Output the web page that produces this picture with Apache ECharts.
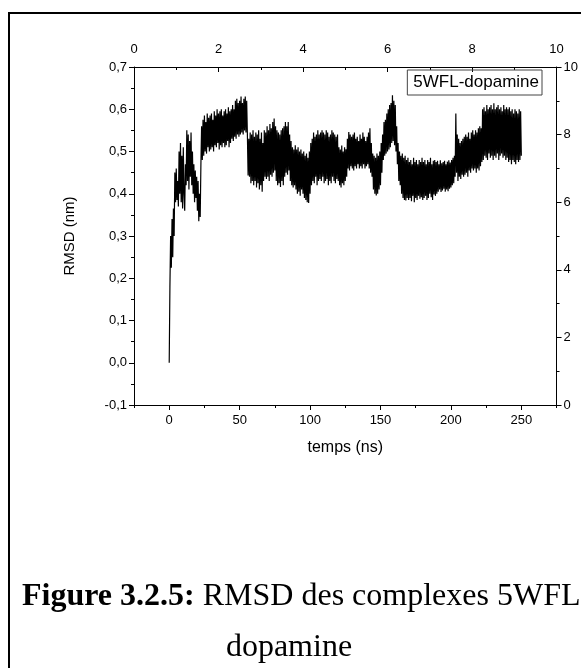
<!DOCTYPE html>
<html>
<head>
<meta charset="utf-8">
<script src="https://cdn.jsdelivr.net/npm/echarts@6/dist/echarts.min.js"></script>
<style>
    html, body { margin: 0; padding: 0; background: #fff; }
    #main { width: 581px; height: 668px; }
</style>
</head>
<body>
<div id="main"></div>
<script>
// RMSD trace, one value every 0.5 ns (0 .. 250 ns)
var dt = 0.5;
var rmsd = [
    // 0 - 9.5 ns
    0.000, 0.180, 0.300, 0.225, 0.340, 0.250, 0.365, 0.300, 0.450, 0.380,
    0.460, 0.385, 0.430, 0.370, 0.500, 0.400, 0.520, 0.380, 0.490, 0.365,
    // 10 - 19.5
    0.510, 0.400, 0.360, 0.470, 0.420, 0.550, 0.430, 0.540, 0.410, 0.525,
    0.440, 0.545, 0.420, 0.500, 0.400, 0.470, 0.380, 0.455, 0.390, 0.440,
    // 20 - 29.5
    0.360, 0.430, 0.335, 0.400, 0.345, 0.470, 0.560, 0.480, 0.575, 0.490,
    0.585, 0.500, 0.570, 0.495, 0.590, 0.510, 0.580, 0.500, 0.585, 0.505,
    // 30 - 39.5
    0.590, 0.510, 0.575, 0.500, 0.595, 0.515, 0.585, 0.510, 0.600, 0.520,
    0.590, 0.505, 0.595, 0.515, 0.600, 0.510, 0.585, 0.520, 0.595, 0.510,
    // 40 - 49.5
    0.600, 0.515, 0.590, 0.525, 0.605, 0.510, 0.595, 0.520, 0.600, 0.530,
    0.610, 0.525, 0.600, 0.535, 0.620, 0.530, 0.625, 0.540, 0.615, 0.535,
    // 50 - 59.5
    0.620, 0.540, 0.630, 0.545, 0.615, 0.540, 0.625, 0.550, 0.630, 0.545,
    0.620, 0.540, 0.443, 0.530, 0.440, 0.545, 0.425, 0.540, 0.430, 0.550,
    // 60 - 69.5
    0.420, 0.535, 0.430, 0.545, 0.415, 0.540, 0.425, 0.550, 0.410, 0.530,
    0.420, 0.545, 0.405, 0.520, 0.430, 0.550, 0.440, 0.545, 0.435, 0.560,
    // 70 - 79.5
    0.440, 0.550, 0.430, 0.565, 0.445, 0.555, 0.440, 0.570, 0.450, 0.578,
    0.455, 0.560, 0.430, 0.550, 0.420, 0.545, 0.425, 0.540, 0.416, 0.550,
    // 80 - 89.5
    0.430, 0.555, 0.420, 0.560, 0.440, 0.570, 0.450, 0.560, 0.445, 0.570,
    0.455, 0.540, 0.430, 0.525, 0.420, 0.510, 0.415, 0.505, 0.420, 0.515,
    // 90 - 99.5
    0.410, 0.505, 0.400, 0.510, 0.405, 0.500, 0.395, 0.505, 0.410, 0.495,
    0.400, 0.500, 0.390, 0.490, 0.385, 0.495, 0.380, 0.485, 0.378, 0.500,
    // 100 - 109.5
    0.400, 0.520, 0.420, 0.530, 0.430, 0.545, 0.425, 0.535, 0.440, 0.540,
    0.420, 0.550, 0.430, 0.540, 0.435, 0.545, 0.430, 0.550, 0.440, 0.545,
    // 110 - 119.5
    0.425, 0.540, 0.430, 0.550, 0.435, 0.545, 0.420, 0.535, 0.430, 0.540,
    0.425, 0.550, 0.440, 0.545, 0.430, 0.540, 0.425, 0.535, 0.435, 0.540,
    // 120 - 129.5
    0.430, 0.510, 0.420, 0.505, 0.415, 0.514, 0.425, 0.500, 0.420, 0.510,
    0.430, 0.505, 0.440, 0.530, 0.460, 0.546, 0.455, 0.540, 0.465, 0.535,
    // 130 - 139.5
    0.460, 0.540, 0.455, 0.545, 0.465, 0.530, 0.460, 0.535, 0.470, 0.525,
    0.460, 0.540, 0.465, 0.530, 0.460, 0.545, 0.470, 0.535, 0.460, 0.525,
    // 140 - 149.5
    0.465, 0.535, 0.470, 0.545, 0.460, 0.555, 0.450, 0.520, 0.440, 0.495,
    0.410, 0.490, 0.400, 0.485, 0.396, 0.495, 0.400, 0.490, 0.410, 0.500,
    // 150 - 159.5
    0.420, 0.520, 0.450, 0.540, 0.480, 0.570, 0.490, 0.575, 0.495, 0.590,
    0.500, 0.600, 0.505, 0.610, 0.510, 0.615, 0.520, 0.633, 0.525, 0.620,
    // 160 - 169.5
    0.515, 0.610, 0.500, 0.560, 0.470, 0.520, 0.430, 0.500, 0.420, 0.490,
    0.400, 0.495, 0.390, 0.485, 0.385, 0.490, 0.384, 0.480, 0.390, 0.485,
    // 170 - 179.5
    0.385, 0.475, 0.390, 0.480, 0.382, 0.470, 0.395, 0.485, 0.380, 0.475,
    0.390, 0.480, 0.385, 0.470, 0.395, 0.480, 0.388, 0.475, 0.392, 0.485,
    // 180 - 189.5
    0.385, 0.475, 0.390, 0.480, 0.395, 0.470, 0.385, 0.480, 0.390, 0.475,
    0.400, 0.485, 0.392, 0.470, 0.385, 0.478, 0.398, 0.480, 0.395, 0.475,
    // 190 - 199.5
    0.400, 0.478, 0.405, 0.470, 0.410, 0.479, 0.404, 0.472, 0.408, 0.475,
    0.412, 0.478, 0.405, 0.470, 0.410, 0.476, 0.406, 0.479, 0.412, 0.474,
    // 200 - 209.5
    0.415, 0.480, 0.420, 0.485, 0.425, 0.490, 0.440, 0.590, 0.450, 0.540,
    0.430, 0.530, 0.440, 0.520, 0.435, 0.525, 0.445, 0.530, 0.440, 0.535,
    // 210 - 219.5
    0.445, 0.540, 0.450, 0.535, 0.440, 0.545, 0.455, 0.530, 0.450, 0.545,
    0.460, 0.550, 0.455, 0.540, 0.460, 0.550, 0.450, 0.545, 0.460, 0.555,
    // 220 - 229.5
    0.455, 0.560, 0.465, 0.555, 0.475, 0.600, 0.480, 0.605, 0.490, 0.595,
    0.485, 0.610, 0.480, 0.600, 0.495, 0.605, 0.485, 0.610, 0.490, 0.600,
    // 230 - 239.5
    0.480, 0.614, 0.490, 0.600, 0.485, 0.605, 0.495, 0.610, 0.480, 0.600,
    0.490, 0.605, 0.495, 0.595, 0.485, 0.610, 0.490, 0.600, 0.480, 0.605,
    // 240 - 249.5
    0.485, 0.600, 0.475, 0.605, 0.480, 0.595, 0.470, 0.600, 0.480, 0.590,
    0.475, 0.600, 0.470, 0.595, 0.480, 0.590, 0.475, 0.600, 0.480, 0.595,
    // 250
    0.490
];

// tick positions
var xMajor = [0, 50, 100, 150, 200, 250];
var xMinor = [-25, 25, 75, 125, 175, 225, 275];

var seriesName = '5WFL-dopamine';
var font = 'Liberation Sans';

var data = rmsd.map(function (v, i) { return [i * dt, v]; });

var myChart = echarts.init(document.getElementById('main'), null, {renderer: 'canvas'});

var axisBase = {
    splitLine: {show: false},
    axisLine: {onZero: false, lineStyle: {color: '#000', width: 1}},
    axisTick: {lineStyle: {color: '#000'}, length: 5},
    minorTick: {show: true, splitNumber: 2, length: 3, lineStyle: {color: '#000'}},
    axisLabel: {color: '#000', fontSize: 13, fontFamily: font}
};

function ax(o) {
    return echarts.util.merge(echarts.util.clone(axisBase), o, true);
}

var option = {
    animation: false,
    backgroundColor: '#fff',
    grid: {left: 134, top: 67, width: 425, height: 338},
    legend: {
        data: [seriesName],
        right: 39, top: 70,
        itemWidth: 0, itemHeight: 0,
        borderColor: '#444', borderWidth: 1,
        padding: [4, 3, 4, 0],
        textStyle: {color: '#000', fontSize: 17, fontFamily: font}
    },
    xAxis: [
        ax({
            type: 'value', position: 'bottom', min: -25, max: 275,
            minorTick: {show: false},
            axisTick: {customValues: xMajor},
            axisLabel: {customValues: xMajor, margin: 9},
            name: 'temps (ns)', nameLocation: 'middle', nameGap: 35,
            nameTextStyle: {color: '#000', fontSize: 16, fontFamily: font}
        }),
        ax({
            type: 'value', position: 'bottom', min: -25, max: 275,
            minorTick: {show: false},
            axisLine: {show: false},
            axisTick: {customValues: xMinor, length: 3},
            axisLabel: {show: false}
        }),
        ax({
            type: 'value', position: 'top', min: 0, max: 10, interval: 2,
            axisTick: {inside: true},
            axisLabel: {margin: 11}
        })
    ],
    yAxis: [
        ax({
            type: 'value', position: 'left', min: -0.1, max: 0.7, interval: 0.1,
            axisLabel: {
                margin: 7,
                formatter: function (v) { return v.toFixed(1).replace('.', ','); }
            },
            name: 'RMSD (nm)', nameLocation: 'middle', nameGap: 57, nameRotate: 90,
            nameTextStyle: {color: '#000', fontSize: 15, fontFamily: font}
        }),
        ax({
            type: 'value', position: 'right', min: 0, max: 10, interval: 2,
            axisLabel: {margin: 7}
        })
    ],
    series: [{
        name: seriesName,
        type: 'line',
        xAxisIndex: 0,
        yAxisIndex: 0,
        data: data,
        showSymbol: false,
        symbol: 'none',
        sampling: null,
        lineStyle: {color: '#000', width: 1.2},
        itemStyle: {color: '#000'}
    }],
    graphic: [
        {
            type: 'rect', silent: true,
            shape: {x: 9, y: 13, width: 640, height: 720},
            style: {fill: 'none', stroke: '#000', lineWidth: 2}
        },
        {
            type: 'text', silent: true, x: 22, y: 597,
            style: {
                text: '{b|Figure 3.2.5:} RMSD des complexes 5WFL-',
                fill: '#000',
                font: '32px "Liberation Serif"',
                verticalAlign: 'middle',
                rich: {b: {fontWeight: 'bold', fontSize: 32, fontFamily: 'Liberation Serif'}}
            }
        },
        {
            type: 'text', silent: true, x: 289, y: 648,
            style: {
                text: 'dopamine',
                fill: '#000',
                font: '32px "Liberation Serif"',
                align: 'center',
                verticalAlign: 'middle'
            }
        }
    ]
};

myChart.setOption(option);
</script>
</body>
</html>
